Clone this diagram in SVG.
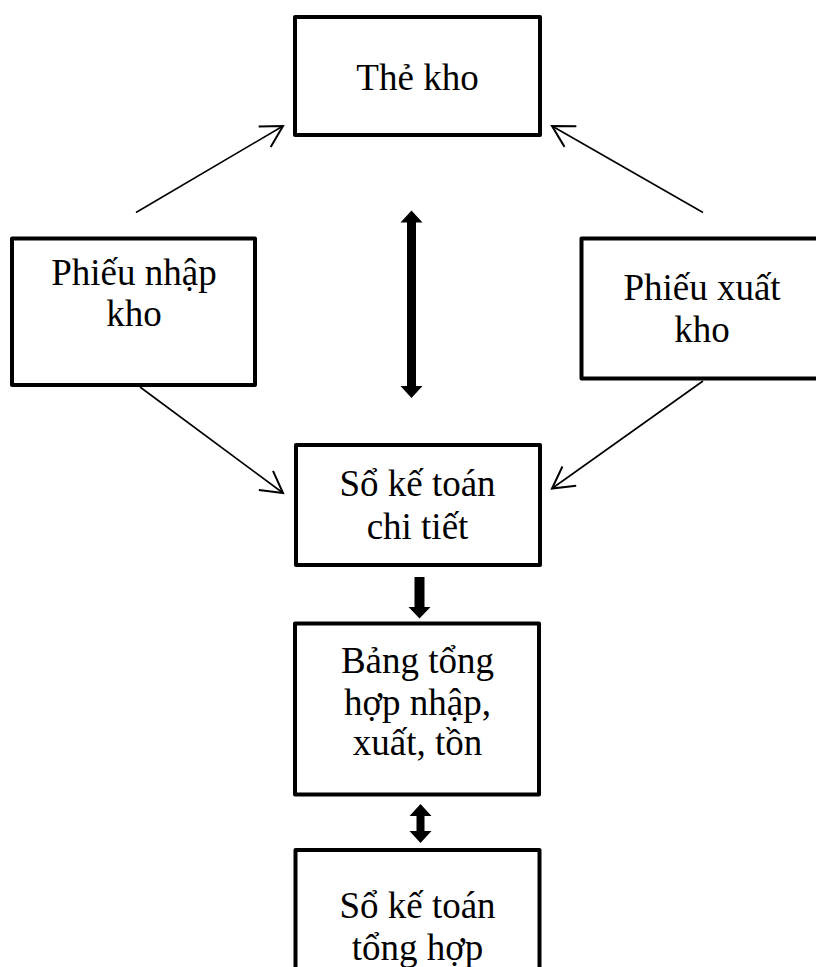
<svg xmlns="http://www.w3.org/2000/svg" width="816" height="967" viewBox="0 0 816 967">
<style>
.box{fill:#fff;stroke:#000;stroke-width:4;stroke-linejoin:round}
.t{font-family:"Liberation Serif","Times New Roman",serif;font-size:37px;fill:#000;text-anchor:middle}
.thin{stroke:#000;stroke-width:1.6;fill:none}
.thick{fill:#000;stroke:none}
</style>
<defs>
<marker id="open" markerUnits="userSpaceOnUse" markerWidth="30" markerHeight="30" viewBox="-20 -12 24 24" refX="0" refY="0" orient="auto">
<path d="M -17 -9.5 L 0 0 L -17 9.5" fill="none" stroke="#000" stroke-width="1.6"/>
</marker>
</defs>
<rect width="816" height="967" fill="#fff"/>
<g id="connectors">
<line class="thin" x1="136" y1="212.5" x2="283" y2="126" marker-end="url(#open)"/>
<line class="thin" x1="703" y1="212.5" x2="552" y2="126" marker-end="url(#open)"/>
<line class="thin" x1="140" y1="387" x2="283" y2="493" marker-end="url(#open)"/>
<line class="thin" x1="703" y1="381" x2="552" y2="488.5" marker-end="url(#open)"/>
<polygon class="thick" points="411.5,210.5 422.5,222.5 416,222.5 416,386 422.5,386 411.5,398 400.5,386 407,386 407,222.5 400.5,222.5"/>
<polygon class="thick" points="414.5,577 424.5,577 424.5,607 430.5,607 419.5,618.5 408.5,607 414.5,607"/>
<polygon class="thick" points="420.5,804 431.5,816 424.5,816 424.5,831 431.5,831 420.5,843 409.5,831 416.5,831 416.5,816 409.5,816"/>
</g>
<g id="the-kho">
<rect class="box" x="295" y="17" width="245" height="118"/>
<text class="t" x="417.5" y="90">Thẻ kho</text>
</g>
<g id="phieu-nhap-kho">
<rect class="box" x="12" y="238.5" width="243" height="146.5"/>
<text class="t" x="134" y="285">Phiếu nhập</text>
<text class="t" x="134" y="326">kho</text>
</g>
<g id="phieu-xuat-kho">
<rect class="box" x="581.5" y="238.5" width="245" height="140"/>
<text class="t" x="702" y="300">Phiếu xuất</text>
<text class="t" x="702" y="341.5">kho</text>
</g>
<g id="so-ke-toan-chi-tiet">
<rect class="box" x="296" y="445" width="244" height="120"/>
<text class="t" x="417.5" y="496">Sổ kế toán</text>
<text class="t" x="417.5" y="538.5">chi tiết</text>
</g>
<g id="bang-tong-hop">
<rect class="box" x="295" y="623.5" width="244" height="171"/>
<text class="t" x="417.5" y="672.5">Bảng tổng</text>
<text class="t" x="417.5" y="714.5">hợp nhập,</text>
<text class="t" x="417.5" y="755">xuất, tồn</text>
</g>
<g id="so-ke-toan-tong-hop">
<rect class="box" x="295.5" y="850" width="244" height="140"/>
<text class="t" x="417.5" y="918">Sổ kế toán</text>
<text class="t" x="417.5" y="960">tổng hợp</text>
</g>
</svg>
